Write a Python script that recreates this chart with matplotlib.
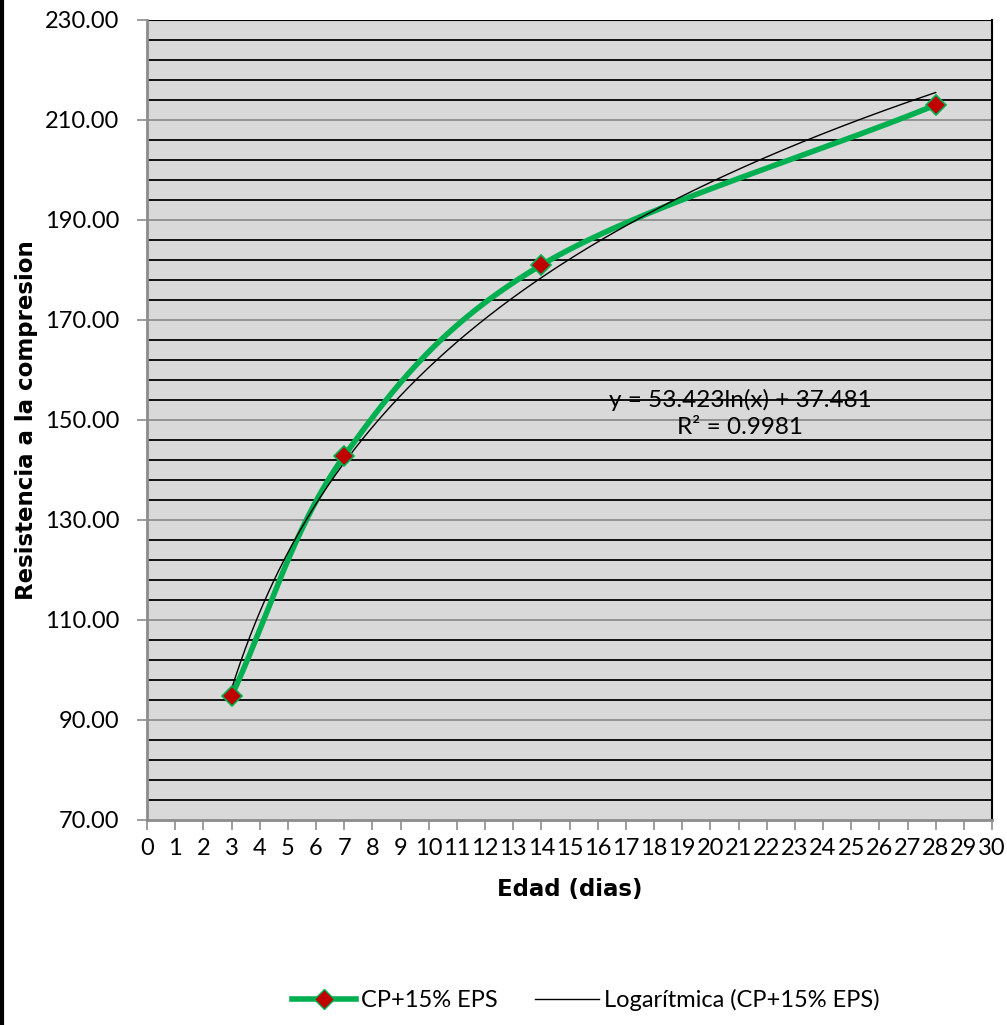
import numpy as np
import matplotlib
matplotlib.use("Agg")
import matplotlib.pyplot as plt
from matplotlib.lines import Line2D

plt.rcParams['font.family'] = ['Lato', 'DejaVu Sans']

# Compressive strength data
edad = [3, 7, 14, 28]
resistencia = [94.8, 142.8, 181.0, 213.0]
serie_label = "CP+15% EPS"
trend_label = "Logarítmica (CP+15% EPS)"
coef_a = 53.423
coef_b = 37.481
r2 = 0.9981
x_ticks = list(range(0, 31))
y_major = [70, 90, 110, 130, 150, 170, 190, 210, 230]


def catmull_rom(xs, ys, n=60):
    """Smooth curve through the points (Catmull-Rom, like a spreadsheet smoothed line)."""
    P = np.column_stack([xs, ys]).astype(float)
    P = np.vstack([2 * P[0] - P[1], P, 2 * P[-1] - P[-2]])
    out = []
    for i in range(1, len(P) - 2):
        p0, p1, p2, p3 = P[i - 1], P[i], P[i + 1], P[i + 2]
        t = np.linspace(0, 1, n)[:, None]
        seg = 0.5 * ((2 * p1) + (-p0 + p2) * t + (2 * p0 - 5 * p1 + 4 * p2 - p3) * t ** 2
                     + (-p0 + 3 * p1 - 3 * p2 + p3) * t ** 3)
        out.append(seg)
    c = np.vstack(out)
    return c[:, 0], c[:, 1]


fig = plt.figure(figsize=(10.07, 10.25), dpi=100)
ax = fig.add_axes([147 / 1007, 1 - 820 / 1025, (992 - 147) / 1007, 800 / 1025])
ax.set_facecolor('#d9d9d9')

ax.set_xlim(0, 30)
ax.set_ylim(70, 230)

# Gridlines: black minor every 4, grey major every 20
for yv in np.arange(74, 230, 4):
    if (yv - 70) % 20 != 0:
        ax.axhline(yv, color='black', lw=1.3, zorder=1)
for yv in y_major[1:-1]:
    ax.axhline(yv, color='#8c8c8c', lw=1.3, zorder=1)
ax.axhline(230, color='black', lw=1.5, zorder=1)

# Smoothed data series
sx, sy = catmull_rom(edad, resistencia)
ax.plot(sx, sy, color='#00b050', lw=4, zorder=3, solid_capstyle='round')
ax.plot(edad, resistencia, linestyle='none', marker='D', ms=10,
        mfc='#c00000', mec='#00b050', mew=1.2, zorder=4)

# Logarithmic trendline
tx = np.linspace(edad[0], edad[-1], 300)
ax.plot(tx, coef_a * np.log(tx) + coef_b, color='black', lw=1.0, zorder=3)

ax.text(21.05, 156.2, f"y = {coef_a:.3f}ln(x) + {coef_b:.3f}\nR² = {r2:.4f}",
        ha='center', va='top', fontsize=17.5, linespacing=1.35, zorder=5)

ax.set_xticks(x_ticks)
ax.set_xticklabels([str(v) for v in x_ticks])
ax.set_yticks(y_major)
ax.set_yticklabels([f"{v:.2f}" for v in y_major])
ax.tick_params(axis='both', labelsize=17, color='#8c8c8c', length=7, width=1.2)
ax.tick_params(axis='x', pad=6)
ax.tick_params(axis='y', pad=13)

for s in ['left', 'bottom']:
    ax.spines[s].set_color('#8c8c8c')
    ax.spines[s].set_linewidth(2)
ax.spines['right'].set_color('black')
ax.spines['right'].set_linewidth(1.5)
ax.spines['top'].set_visible(False)

ax.set_xlabel("Edad (dias)", fontsize=16.5, fontweight='bold', family='DejaVu Sans')
ax.xaxis.set_label_coords(0.5, -(868 - 820 + 10) / 800)
ax.set_ylabel("Resistencia a la compresion", fontsize=16.5, fontweight='bold',
              family='DejaVu Sans')
ax.yaxis.set_label_coords((38 - 147) / 845, 0.5)

handles = [
    Line2D([0], [0], color='#00b050', lw=4, marker='D', ms=10,
           mfc='#c00000', mec='#00b050'),
    Line2D([0], [0], color='black', lw=1.0),
]
fig.legend(handles, [serie_label, trend_label], loc='center', ncol=2,
           bbox_to_anchor=(586 / 1007, 1 - 1000 / 1025), frameon=False, fontsize=17,
           handlelength=2.7, handletextpad=0.2, columnspacing=1.6)

# Left frame edge
fig.add_artist(Line2D([0.0015, 0.0015], [0, 1], color='black', lw=3,
                      transform=fig.transFigure))

fig.savefig("out.png", dpi=100)
